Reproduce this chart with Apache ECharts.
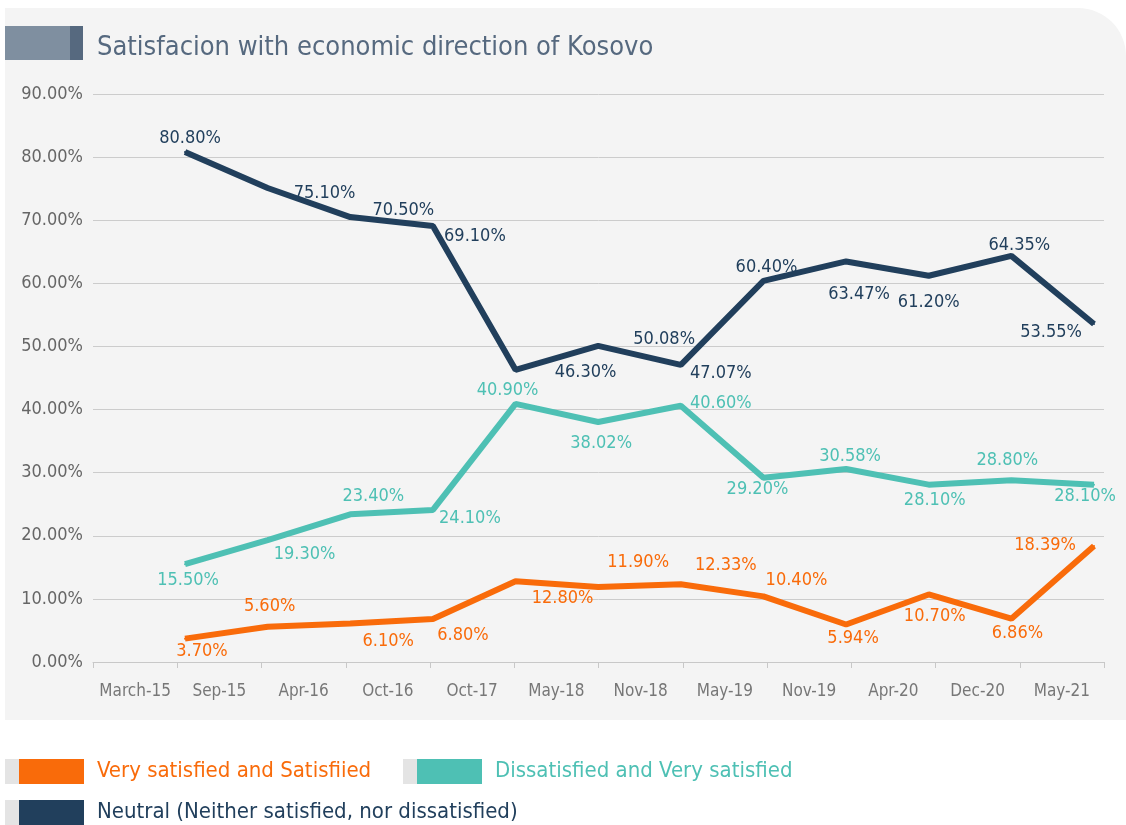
<!DOCTYPE html>
<html>
<head>
<meta charset="utf-8">
<script src="https://cdn.jsdelivr.net/npm/echarts@6/dist/echarts.min.js"></script>
<style>
html,body{margin:0;padding:0;background:#fff;}
#chart{width:1126px;height:825px;}
</style>
</head>
<body>
<div id="chart"></div>
<script>
// ---- data ----
const categories = ["March-15","Sep-15","Apr-16","Oct-16","Oct-17","May-18","Nov-18","May-19","Nov-19","Apr-20","Dec-20","May-21"];
const satisfied = [3.70, 5.60, 6.10, 6.80, 12.80, 11.90, 12.33, 10.40, 5.94, 10.70, 6.86, 18.39];
const dissatisfied = [15.50, 19.30, 23.40, 24.10, 40.90, 38.02, 40.60, 29.20, 30.58, 28.10, 28.80, 28.10];
const neutral = [80.80, 75.10, 70.50, 69.10, 46.30, 50.08, 47.07, 60.40, 63.47, 61.20, 64.35, 53.55];
const seriesNames = ["Very satisfied and Satisfiied","Dissatisfied and Very satisfied","Neutral (Neither satisfied, nor dissatisfied)"];
const titleText = "Satisfacion with economic direction of Kosovo";

// ---- styling (label placement offsets, colours) ----
const FONT = "'DejaVu Sans Condensed','DejaVu Sans',sans-serif";
const colors = ["#f96b0a", "#4ec0b4", "#213f5c"];
const offNeutral = [[5,-14],[57,5],[53,-7],[42,10],[70,3],[66,-7],[40,8],[3,-13],[13,33],[0,27],[8,-11],[-43,8]];
const offDiss = [[3,16],[37,14],[23,-18],[37,8],[-8,-14],[3,21],[40,-2],[-6,12],[4,-13],[6,16],[-4,-20],[-9,12]];
const offSat = [[17,13],[2,-20],[38,18],[30,16],[47,17],[40,-25],[45,-19],[33,-16],[7,14],[6,22],[6,15],[-49,-1]];

function mkSeries(name, values, color, offs){
  return {
    name: name,
    type: 'line',
    xAxisIndex: 1,
    yAxisIndex: 0,
    symbol: 'circle',
    symbolSize: 2,
    showSymbol: true,
    itemStyle: {color: color},
    lineStyle: {color: color, width: 6},
    emphasis: {disabled: true},
    data: values.map((v, i) => ({
      value: [i, v],
      label: {offset: offs[i]}
    })),
    label: {
      show: true,
      position: 'inside',
      color: color,
      fontFamily: FONT,
      fontSize: 18,
      formatter: p => p.value[1].toFixed(2) + '%'
    },
    z: 3
  };
}

const chart = echarts.init(document.getElementById('chart'), null, {renderer: 'canvas'});
const option = {
  backgroundColor: '#ffffff',
  animation: false,
  graphic: [
    {type: 'rect', z: -10, shape: {x: 5, y: 8, width: 1121, height: 712, r: [0, 48, 0, 0]}, style: {fill: '#f4f4f4'}},
    {type: 'rect', z: -5, shape: {x: 5, y: 26, width: 65, height: 34}, style: {fill: '#7f8fa0'}},
    {type: 'rect', z: -5, shape: {x: 70, y: 26, width: 13, height: 34}, style: {fill: '#56697f'}},
    {type: 'rect', shape: {x: 5, y: 759, width: 14, height: 25}, style: {fill: '#e4e4e4'}},
    {type: 'rect', shape: {x: 403, y: 759, width: 14, height: 25}, style: {fill: '#e4e4e4'}},
    {type: 'rect', shape: {x: 5, y: 800, width: 14, height: 25}, style: {fill: '#e4e4e4'}}
  ],
  title: {
    text: titleText,
    left: 92,
    top: 29,
    textStyle: {fontFamily: FONT, fontSize: 27, fontWeight: 'normal', color: '#56697f'}
  },
  legend: [0, 1, 2].map(k => ({
    data: [{name: seriesNames[k], textStyle: {color: colors[k]}}],
    left: [19, 417, 19][k],
    top: [759, 759, 800][k],
    padding: 0,
    icon: 'rect',
    itemWidth: 65,
    itemHeight: 25,
    itemStyle: {borderWidth: 0},
    selectedMode: false,
    textStyle: {fontFamily: FONT, fontSize: 22, padding: [0, 0, 0, 8]}
  })),
  grid: {left: 93, right: 22, top: 94, bottom: 163, containLabel: false},
  xAxis: [
    {
      type: 'category',
      data: categories,
      boundaryGap: true,
      axisLine: {lineStyle: {color: '#c8c8c8', width: 1}},
      axisTick: {show: true, length: 6, lineStyle: {color: '#c8c8c8'}},
      axisLabel: {color: '#777777', fontFamily: FONT, fontSize: 17, margin: 21, interval: 0},
      splitLine: {show: false}
    },
    {
      type: 'value',
      show: false,
      min: -1.1133,
      max: 11.121,
      splitLine: {show: false}
    }
  ],
  yAxis: {
    type: 'value',
    min: 0,
    max: 90,
    interval: 10,
    axisLine: {show: false},
    axisTick: {show: false},
    axisLabel: {color: '#666666', fontFamily: FONT, fontSize: 18, margin: 10, formatter: v => v.toFixed(2) + '%'},
    splitLine: {lineStyle: {color: '#cccccc', width: 1}}
  },
  series: [
    mkSeries(seriesNames[0], satisfied, colors[0], offSat),
    mkSeries(seriesNames[1], dissatisfied, colors[1], offDiss),
    mkSeries(seriesNames[2], neutral, colors[2], offNeutral)
  ]
};
chart.setOption(option);
</script>
</body>
</html>
